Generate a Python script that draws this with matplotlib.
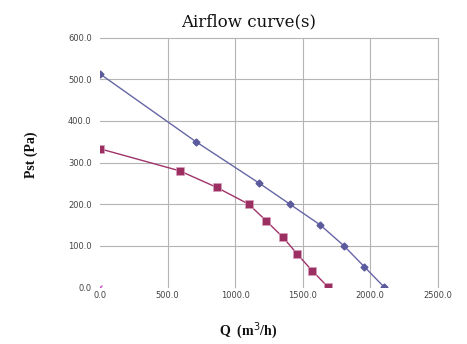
import matplotlib
matplotlib.use("Agg")
import matplotlib.pyplot as plt
from matplotlib.ticker import FixedLocator, FuncFormatter

# Fan airflow curves: static pressure vs. flow rate
q_high = [0, 710, 1180, 1405, 1630, 1805, 1955, 2105]
p_high = [513, 350, 250, 200, 150, 100, 50, 0]

q_low = [0, 590, 865, 1100, 1230, 1355, 1460, 1570, 1690]
p_low = [333, 280, 240, 200, 160, 120, 80, 40, 0]

# single stray point at the origin
q_extra = [0]
p_extra = [0]

x_ticks = [0, 500, 1000, 1500, 2000, 2500]
y_ticks = [0, 100, 200, 300, 400, 500, 600]

fig = plt.figure(figsize=(4.67, 3.44), dpi=100)
ax = fig.add_axes([0.2141, 0.1648, 0.7232, 0.7256])

ax.plot(q_high, p_high, color="#6666a6", linewidth=1.0, marker="D",
        markersize=3.5, markerfacecolor="#5a5a9c", markeredgecolor="#5a5a9c", zorder=3)
ax.plot(q_low, p_low, color="#a0336a", linewidth=1.0, marker="s",
        markersize=6, markerfacecolor="#9c2f62", markeredgecolor="#d8a0bc",
        markeredgewidth=0.5, zorder=3)
ax.plot(q_extra, p_extra, linestyle="none", marker="x", markersize=2.5,
        color="#cc44cc", markeredgewidth=0.8, zorder=3)

ax.set_xlim(0, 2500)
ax.set_ylim(0, 600)
ax.xaxis.set_major_locator(FixedLocator(x_ticks))
ax.yaxis.set_major_locator(FixedLocator(y_ticks))
fmt = FuncFormatter(lambda v, pos: f"{v:.1f}")
ax.xaxis.set_major_formatter(fmt)
ax.yaxis.set_major_formatter(fmt)

for s in ax.spines.values():
    s.set_visible(False)
ax.tick_params(length=0, labelsize=6, colors="#444444", pad=3)
ax.tick_params(axis="y", pad=6)

# gridlines everywhere except the zero lines
for yv in y_ticks[1:]:
    ax.axhline(yv, color="#b4b4b4", linewidth=0.8, zorder=1, clip_on=False)
for xv in x_ticks[1:]:
    ax.axvline(xv, color="#b4b4b4", linewidth=0.8, zorder=1, clip_on=False)

fig.text(0.532, 0.935, "Airflow curve(s)", ha="center", va="center",
         fontsize=12, family="DejaVu Serif", color="#111111")
fig.text(0.066, 0.55, "Pst (Pa)", ha="center", va="center", rotation=90,
         fontsize=10, family="Liberation Serif", fontweight="bold", color="#111111")
fig.text(0.532, 0.04, "Q  (m$^3$/h)", ha="center", va="center",
         fontsize=10, family="Liberation Serif", fontweight="bold", color="#111111")

fig.savefig("out.png", dpi=100)
